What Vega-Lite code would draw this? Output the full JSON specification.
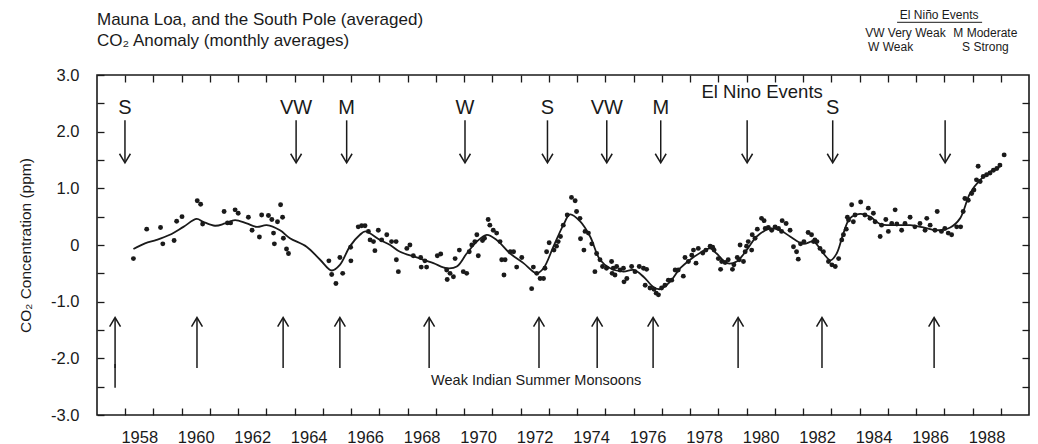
{
 "$schema": "https://vega.github.io/schema/vega-lite/v6.json",
 "width": 932, "height": 340,
 "autosize": {"type": "none"},
 "padding": {"left": 97, "top": 75, "right": 9, "bottom": 29},
 "background": "white",
 "config": {"view": {"stroke": "#1a1a1a", "strokeWidth": 1.6}, "font": "Liberation Sans"},
 "title": {"text": "Mauna Loa, and the South Pole (averaged)", "subtitle": "CO₂ Anomaly (monthly averages)", "anchor": "start", "frame": "group", "font": "Liberation Sans Narrow, Liberation Sans", "subtitleFont": "Liberation Sans Narrow, Liberation Sans", "fontSize": 17, "subtitleFontSize": 17, "fontWeight": "normal", "color": "#1a1a1a", "subtitleColor": "#1a1a1a", "offset": -41, "subtitlePadding": 4},
 "datasets": {
  "curve": [
   {"year":1958.29,"co2":-0.07},{"year":1958.70,"co2":0.03},{"year":1959.11,"co2":0.09},{"year":1959.58,"co2":0.18},{"year":1960.06,"co2":0.32},{"year":1960.53,"co2":0.46},{"year":1960.76,"co2":0.41},{"year":1961.18,"co2":0.34},{"year":1961.53,"co2":0.38},{"year":1961.89,"co2":0.44},{"year":1962.30,"co2":0.38},{"year":1962.66,"co2":0.32},{"year":1963.01,"co2":0.35},{"year":1963.48,"co2":0.26},{"year":1963.83,"co2":0.12},{"year":1964.42,"co2":-0.03},{"year":1964.90,"co2":-0.26},{"year":1965.31,"co2":-0.45},{"year":1965.60,"co2":-0.35},{"year":1965.96,"co2":-0.02},{"year":1966.31,"co2":0.18},{"year":1966.50,"co2":0.24},{"year":1967.02,"co2":0.09},{"year":1967.38,"co2":0.0},{"year":1967.73,"co2":-0.12},{"year":1968.32,"co2":-0.22},{"year":1968.91,"co2":-0.32},{"year":1969.38,"co2":-0.41},{"year":1969.74,"co2":-0.38},{"year":1970.09,"co2":-0.15},{"year":1970.45,"co2":0.06},{"year":1970.80,"co2":0.18},{"year":1971.15,"co2":0.09},{"year":1971.63,"co2":-0.15},{"year":1972.10,"co2":-0.32},{"year":1972.57,"co2":-0.50},{"year":1972.81,"co2":-0.41},{"year":1973.16,"co2":-0.03},{"year":1973.51,"co2":0.35},{"year":1973.75,"co2":0.54},{"year":1974.10,"co2":0.42},{"year":1974.46,"co2":0.15},{"year":1974.81,"co2":-0.26},{"year":1975.17,"co2":-0.41},{"year":1975.64,"co2":-0.47},{"year":1976.00,"co2":-0.44},{"year":1976.35,"co2":-0.56},{"year":1976.70,"co2":-0.74},{"year":1976.94,"co2":-0.78},{"year":1977.29,"co2":-0.65},{"year":1977.65,"co2":-0.41},{"year":1978.00,"co2":-0.26},{"year":1978.35,"co2":-0.14},{"year":1978.71,"co2":-0.06},{"year":1978.94,"co2":-0.15},{"year":1979.30,"co2":-0.32},{"year":1979.65,"co2":-0.29},{"year":1980.00,"co2":-0.09},{"year":1980.36,"co2":0.15},{"year":1980.83,"co2":0.29},{"year":1981.19,"co2":0.26},{"year":1981.54,"co2":0.15},{"year":1982.01,"co2":0.02},{"year":1982.37,"co2":0.06},{"year":1982.72,"co2":-0.15},{"year":1982.98,"co2":-0.27},{"year":1983.19,"co2":-0.15},{"year":1983.43,"co2":0.21},{"year":1983.66,"co2":0.47},{"year":1984.02,"co2":0.55},{"year":1984.37,"co2":0.50},{"year":1984.73,"co2":0.37},{"year":1985.20,"co2":0.35},{"year":1985.79,"co2":0.35},{"year":1986.26,"co2":0.31},{"year":1986.73,"co2":0.26},{"year":1987.21,"co2":0.31},{"year":1987.56,"co2":0.47},{"year":1987.91,"co2":0.91},{"year":1988.27,"co2":1.15},{"year":1988.62,"co2":1.29},{"year":1989.04,"co2":1.40}
  ],
  "points": [
   {"year":1958.29,"co2":-0.24},{"year":1958.76,"co2":0.28},{"year":1959.25,"co2":0.31},{"year":1959.33,"co2":0.02},{"year":1959.73,"co2":0.08},{"year":1959.82,"co2":0.42},{"year":1960.01,"co2":0.50},{"year":1960.55,"co2":0.78},{"year":1960.67,"co2":0.72},{"year":1960.74,"co2":0.37},{"year":1961.50,"co2":0.59},{"year":1961.62,"co2":0.39},{"year":1961.73,"co2":0.39},{"year":1961.89,"co2":0.62},{"year":1962.00,"co2":0.56},{"year":1962.36,"co2":0.49},{"year":1962.49,"co2":0.26},{"year":1962.75,"co2":0.14},{"year":1962.83,"co2":0.53},{"year":1963.07,"co2":0.52},{"year":1963.19,"co2":0.45},{"year":1963.25,"co2":0.21},{"year":1963.28,"co2":0.02},{"year":1963.39,"co2":0.41},{"year":1963.50,"co2":0.71},{"year":1963.57,"co2":0.49},{"year":1963.60,"co2":0.12},{"year":1963.71,"co2":-0.07},{"year":1963.78,"co2":-0.15},
   {"year":1965.21,"co2":-0.28},{"year":1965.31,"co2":-0.52},{"year":1965.46,"co2":-0.68},{"year":1965.60,"co2":-0.22},{"year":1965.70,"co2":-0.50},{"year":1965.98,"co2":-0.04},{"year":1965.99,"co2":-0.28},{"year":1966.25,"co2":0.32},{"year":1966.37,"co2":0.34},{"year":1966.49,"co2":0.34},{"year":1966.61,"co2":0.24},{"year":1966.67,"co2":0.09},{"year":1966.79,"co2":0.06},{"year":1966.84,"co2":-0.10},{"year":1966.96,"co2":0.26},{"year":1967.08,"co2":0.09},{"year":1967.26,"co2":0.18},{"year":1967.43,"co2":0.06},{"year":1967.59,"co2":0.06},{"year":1967.60,"co2":-0.26},{"year":1967.67,"co2":-0.47},{"year":1967.97,"co2":-0.06},{"year":1968.08,"co2":0.0},{"year":1968.20,"co2":-0.19},{"year":1968.46,"co2":-0.22},{"year":1968.48,"co2":-0.39},{"year":1968.61,"co2":-0.28},{"year":1968.67,"co2":-0.39},{"year":1969.05,"co2":-0.19},{"year":1969.17,"co2":-0.16},{"year":1969.38,"co2":-0.44},{"year":1969.40,"co2":-0.61},{"year":1969.50,"co2":-0.50},{"year":1969.62,"co2":-0.56},{"year":1969.68,"co2":-0.24},{"year":1969.83,"co2":-0.09},{"year":1969.97,"co2":-0.47},{"year":1970.09,"co2":-0.50},{"year":1970.18,"co2":-0.12},{"year":1970.27,"co2":0.0},{"year":1970.38,"co2":0.06},{"year":1970.45,"co2":0.18},{"year":1970.50,"co2":-0.19},{"year":1970.65,"co2":0.08},{"year":1970.72,"co2":0.12},{"year":1970.85,"co2":0.45},{"year":1970.91,"co2":0.35},{"year":1971.03,"co2":0.26},{"year":1971.15,"co2":0.21},{"year":1971.27,"co2":0.06},{"year":1971.33,"co2":-0.26},{"year":1971.41,"co2":-0.53},{"year":1971.45,"co2":-0.26},{"year":1971.63,"co2":-0.12},{"year":1971.75,"co2":-0.12},{"year":1971.86,"co2":-0.39},{"year":1972.04,"co2":-0.22},{"year":1972.39,"co2":-0.77},{"year":1972.45,"co2":-0.39},{"year":1972.57,"co2":-0.50},{"year":1972.69,"co2":-0.59},{"year":1972.81,"co2":-0.59},{"year":1972.86,"co2":-0.41},{"year":1972.92,"co2":-0.12},{"year":1973.01,"co2":0.04},{"year":1973.18,"co2":-0.09},{"year":1973.27,"co2":-0.02},{"year":1973.33,"co2":0.06},{"year":1973.41,"co2":0.15},{"year":1973.51,"co2":0.35},{"year":1973.65,"co2":0.53},{"year":1973.80,"co2":0.84},{"year":1973.93,"co2":0.78},{"year":1973.98,"co2":0.59},{"year":1974.10,"co2":0.47},{"year":1974.12,"co2":0.11},{"year":1974.24,"co2":-0.09},{"year":1974.28,"co2":0.24},{"year":1974.40,"co2":0.21},{"year":1974.52,"co2":0.02},{"year":1974.63,"co2":-0.47},{"year":1974.69,"co2":-0.15},{"year":1974.81,"co2":-0.26},{"year":1974.90,"co2":-0.38},{"year":1975.04,"co2":-0.41},{"year":1975.22,"co2":-0.29},{"year":1975.24,"co2":-0.50},{"year":1975.28,"co2":-0.41},{"year":1975.34,"co2":-0.53},{"year":1975.40,"co2":-0.38},{"year":1975.52,"co2":-0.44},{"year":1975.64,"co2":-0.41},{"year":1975.66,"co2":-0.65},{"year":1975.76,"co2":-0.59},{"year":1975.93,"co2":-0.38},{"year":1976.05,"co2":-0.47},{"year":1976.20,"co2":-0.38},{"year":1976.35,"co2":-0.41},{"year":1976.41,"co2":-0.71},{"year":1976.46,"co2":-0.43},{"year":1976.58,"co2":-0.76},{"year":1976.72,"co2":-0.78},{"year":1976.80,"co2":-0.85},{"year":1976.88,"co2":-0.88},{"year":1976.99,"co2":-0.76},{"year":1977.11,"co2":-0.71},{"year":1977.23,"co2":-0.62},{"year":1977.35,"co2":-0.62},{"year":1977.47,"co2":-0.44},{"year":1977.58,"co2":-0.44},{"year":1977.76,"co2":-0.55},{"year":1977.82,"co2":-0.22},{"year":1977.94,"co2":-0.29},{"year":1978.06,"co2":-0.18},{"year":1978.12,"co2":-0.09},{"year":1978.21,"co2":-0.32},{"year":1978.29,"co2":-0.06},{"year":1978.45,"co2":-0.14},{"year":1978.56,"co2":-0.09},{"year":1978.71,"co2":-0.02},{"year":1978.80,"co2":-0.04},{"year":1978.85,"co2":-0.09},{"year":1979.00,"co2":-0.24},{"year":1979.08,"co2":-0.43},{"year":1979.12,"co2":-0.29},{"year":1979.24,"co2":-0.31},{"year":1979.35,"co2":-0.26},{"year":1979.50,"co2":-0.43},{"year":1979.55,"co2":-0.35},{"year":1979.67,"co2":-0.22},{"year":1979.74,"co2":-0.26},{"year":1979.77,"co2":0.0},{"year":1979.89,"co2":-0.29},{"year":1979.95,"co2":-0.12},{"year":1980.00,"co2":-0.02},{"year":1980.06,"co2":0.06},{"year":1980.18,"co2":-0.09},{"year":1980.20,"co2":0.18},{"year":1980.30,"co2":0.12},{"year":1980.38,"co2":0.28},{"year":1980.53,"co2":0.47},{"year":1980.62,"co2":0.43},{"year":1980.66,"co2":0.29},{"year":1980.77,"co2":0.31},{"year":1980.89,"co2":0.26},{"year":1981.01,"co2":0.32},{"year":1981.13,"co2":0.29},{"year":1981.24,"co2":0.24},{"year":1981.26,"co2":0.43},{"year":1981.40,"co2":0.38},{"year":1981.54,"co2":0.26},{"year":1981.66,"co2":-0.03},{"year":1981.77,"co2":-0.12},{"year":1981.83,"co2":-0.25},{"year":1981.91,"co2":0.02},{"year":1982.03,"co2":0.06},{"year":1982.18,"co2":0.22},{"year":1982.30,"co2":0.18},{"year":1982.37,"co2":0.06},{"year":1982.42,"co2":0.09},{"year":1982.49,"co2":0.06},{"year":1982.60,"co2":-0.06},{"year":1982.72,"co2":-0.12},{"year":1982.90,"co2":-0.29},{"year":1983.02,"co2":-0.35},{"year":1983.14,"co2":-0.38},{"year":1983.26,"co2":-0.24},{"year":1983.37,"co2":0.09},{"year":1983.43,"co2":0.18},{"year":1983.53,"co2":0.28},{"year":1983.57,"co2":0.49},{"year":1983.61,"co2":0.44},{"year":1983.72,"co2":0.71},{"year":1983.78,"co2":0.41},{"year":1983.84,"co2":0.53},{"year":1984.04,"co2":0.76},{"year":1984.19,"co2":0.53},{"year":1984.31,"co2":0.65},{"year":1984.37,"co2":0.47},{"year":1984.49,"co2":0.56},{"year":1984.55,"co2":0.41},{"year":1984.73,"co2":0.15},{"year":1984.78,"co2":0.35},{"year":1984.93,"co2":0.45},{"year":1985.02,"co2":0.24},{"year":1985.14,"co2":0.38},{"year":1985.26,"co2":0.62},{"year":1985.32,"co2":0.37},{"year":1985.49,"co2":0.26},{"year":1985.61,"co2":0.38},{"year":1985.79,"co2":0.49},{"year":1985.96,"co2":0.32},{"year":1986.14,"co2":0.38},{"year":1986.32,"co2":0.26},{"year":1986.38,"co2":0.47},{"year":1986.50,"co2":0.35},{"year":1986.67,"co2":0.26},{"year":1986.75,"co2":0.59},{"year":1986.90,"co2":0.24},{"year":1987.02,"co2":0.29},{"year":1987.14,"co2":0.21},{"year":1987.26,"co2":0.18},{"year":1987.44,"co2":0.32},{"year":1987.58,"co2":0.32},{"year":1987.67,"co2":0.59},{"year":1987.73,"co2":0.82},{"year":1987.85,"co2":0.79},{"year":1987.97,"co2":0.91},{"year":1988.05,"co2":0.97},{"year":1988.14,"co2":1.15},{"year":1988.20,"co2":1.39},{"year":1988.27,"co2":1.12},{"year":1988.38,"co2":1.21},{"year":1988.50,"co2":1.24},{"year":1988.62,"co2":1.27},{"year":1988.74,"co2":1.32},{"year":1988.86,"co2":1.35},{"year":1988.97,"co2":1.41},{"year":1989.12,"co2":1.59}
  ],
  "elnino": [
   {"year":1957.99,"label":"S"},{"year":1964.05,"label":"VW"},{"year":1965.84,"label":"M"},{"year":1970.03,"label":"W"},{"year":1972.95,"label":"S"},{"year":1975.05,"label":"VW"},{"year":1976.96,"label":"M"},{"year":1980.02,"label":""},{"year":1983.05,"label":"S"},{"year":1987.03,"label":""}
  ],
  "monsoon": [
   {"year":1957.64},{"year":1960.54},{"year":1963.59},{"year":1965.60},{"year":1968.76},{"year":1972.65},{"year":1974.71},{"year":1976.69},{"year":1979.70},{"year":1982.67},{"year":1986.64}
  ],
  "notes": [
   {"year":1972.55,"co2":-2.40,"text":"Weak Indian Summer Monsoons"}
  ],
  "key": [
   {"year":1984.20,"co2":3.74,"text":"VW  Very Weak"},
   {"year":1987.32,"co2":3.74,"text":"M  Moderate"},
   {"year":1984.30,"co2":3.49,"text":"W  Weak"},
   {"year":1987.63,"co2":3.49,"text":"S  Strong"}
  ]
 },
 "resolve": {"axis": {"x": "independent", "y": "independent"}},
 "layer": [
  {
   "data": {"name": "curve"},
   "mark": {"type": "line", "interpolate": "catmull-rom", "color": "#1a1a1a", "strokeWidth": 1.8},
   "encoding": {
    "x": {"field": "year", "type": "quantitative", "scale": {"domain": [1957, 1990], "nice": false, "zero": false},
     "axis": {"orient": "bottom", "title": null, "values": [1958,1959,1960,1961,1962,1963,1964,1965,1966,1967,1968,1969,1970,1971,1972,1973,1974,1975,1976,1977,1978,1979,1980,1981,1982,1983,1984,1985,1986,1987,1988,1989],
      "labelExpr": "datum.value % 2 == 0 ? '' + datum.value : ''", "labelOverlap": false, "labelFlush": false, "labelOffset": 14,
      "tickSize": -7, "tickWidth": 1.3, "tickColor": "#1a1a1a", "labelPadding": 21, "domain": false, "grid": false,
      "labelFontSize": 16.5, "labelColor": "#1a1a1a", "labelFont": "Liberation Sans"}},
    "y": {"field": "co2", "type": "quantitative", "scale": {"domain": [-3, 3], "nice": false, "zero": false},
     "axis": {"orient": "left", "title": "CO₂ Concentration (ppm)", "values": [-3,-2.5,-2,-1.5,-1,-0.5,0,0.5,1,1.5,2,2.5,3],
      "labelExpr": "datum.value == 0 ? '0' : (datum.value % 1 == 0 ? (datum.value < 0 ? '-' : '') + format(abs(datum.value), '.1f') : '')",
      "labelOverlap": false, "labelFlush": false, "tickSize": -7, "tickWidth": 1.3, "tickColor": "#1a1a1a", "labelPadding": 25,
      "domain": false, "grid": false, "labelFontSize": 16.5, "labelColor": "#1a1a1a", "labelFont": "Liberation Sans",
      "titleFontSize": 15.5, "titleFontWeight": "normal", "titleColor": "#1a1a1a", "titleFont": "Liberation Sans", "titlePadding": 17}}
   }
  },
  {
   "data": {"name": "points"},
   "mark": {"type": "circle", "size": 24, "color": "#1a1a1a", "opacity": 1},
   "encoding": {
    "x": {"field": "year", "type": "quantitative",
     "axis": {"orient": "top", "title": null, "labels": false, "values": [1958,1959,1960,1961,1962,1963,1964,1965,1966,1967,1968,1969,1970,1971,1972,1973,1974,1975,1976,1977,1978,1979,1980,1981,1982,1983,1984,1985,1986,1987,1988,1989],
      "tickSize": -7, "tickWidth": 1.3, "tickColor": "#1a1a1a", "domain": false, "grid": false}},
    "y": {"field": "co2", "type": "quantitative",
     "axis": {"orient": "right", "title": null, "labels": false, "values": [-2.5,-2,-1.5,-1,-0.5,0,0.5,1,1.5,2,2.5],
      "tickSize": -7, "tickWidth": 1.3, "tickColor": "#1a1a1a", "domain": false, "grid": false}}
   }
  },
  {
   "data": {"name": "elnino"},
   "mark": {"type": "rule", "color": "#1a1a1a", "strokeWidth": 1.5},
   "encoding": {
    "x": {"field": "year", "type": "quantitative", "axis": null},
    "y": {"datum": 2.2, "type": "quantitative", "axis": null},
    "y2": {"datum": 1.47}
   }
  },
  {
   "data": {"name": "elnino"},
   "mark": {"type": "point", "shape": "M-0.6,-1L0,0L0.6,-1", "filled": false, "size": 330, "color": "#1a1a1a", "strokeWidth": 1.5, "opacity": 1},
   "encoding": {
    "x": {"field": "year", "type": "quantitative", "axis": null},
    "y": {"datum": 1.45, "type": "quantitative", "axis": null}
   }
  },
  {
   "data": {"name": "elnino"},
   "mark": {"type": "text", "fontSize": 20, "color": "#1a1a1a", "font": "Liberation Sans Narrow, Liberation Sans", "align": "center", "baseline": "middle"},
   "encoding": {
    "x": {"field": "year", "type": "quantitative", "axis": null},
    "y": {"datum": 2.42, "type": "quantitative", "axis": null},
    "text": {"field": "label"}
   }
  },
  {
   "data": {"name": "monsoon"},
   "mark": {"type": "rule", "color": "#1a1a1a", "strokeWidth": 1.5},
   "encoding": {
    "x": {"field": "year", "type": "quantitative", "axis": null},
    "y": {"datum": -2.17, "type": "quantitative", "axis": null},
    "y2": {"datum": -1.3}
   }
  },
  {
   "data": {"name": "monsoon"},
   "transform": [{"filter": "datum.year < 1958"}],
   "mark": {"type": "rule", "color": "#1a1a1a", "strokeWidth": 1.5},
   "encoding": {
    "x": {"field": "year", "type": "quantitative", "axis": null},
    "y": {"datum": -2.52, "type": "quantitative", "axis": null},
    "y2": {"datum": -2.1}
   }
  },
  {
   "data": {"name": "monsoon"},
   "mark": {"type": "point", "shape": "M-0.6,1L0,0L0.6,1", "filled": false, "size": 330, "color": "#1a1a1a", "strokeWidth": 1.5, "opacity": 1},
   "encoding": {
    "x": {"field": "year", "type": "quantitative", "axis": null},
    "y": {"datum": -1.28, "type": "quantitative", "axis": null}
   }
  },
  {
   "data": {"name": "notes"},
   "mark": {"type": "text", "fontSize": 14.5, "color": "#1a1a1a", "font": "Liberation Sans", "align": "center", "baseline": "middle"},
   "encoding": {
    "x": {"field": "year", "type": "quantitative", "axis": null},
    "y": {"field": "co2", "type": "quantitative", "axis": null},
    "text": {"field": "text"}
   }
  },
  {
   "data": {"values": [{"text": "El Nino Events"}]},
   "mark": {"type": "text", "fontSize": 18.5, "color": "#1a1a1a", "font": "Liberation Sans", "align": "center", "baseline": "middle"},
   "encoding": {
    "x": {"datum": 1980.55, "type": "quantitative", "axis": null},
    "y": {"datum": 2.70, "type": "quantitative", "axis": null},
    "text": {"field": "text"}
   }
  },
  {
   "data": {"name": "key"},
   "mark": {"type": "text", "fontSize": 12, "color": "#1a1a1a", "font": "Liberation Sans", "align": "left", "baseline": "middle"},
   "encoding": {
    "x": {"field": "year", "type": "quantitative", "axis": null},
    "y": {"field": "co2", "type": "quantitative", "axis": null},
    "text": {"field": "text"}
   }
  },
  {
   "data": {"values": [{"text": "El Niño Events"}]},
   "mark": {"type": "text", "fontSize": 12, "color": "#1a1a1a", "font": "Liberation Sans", "align": "center", "baseline": "middle"},
   "encoding": {
    "x": {"datum": 1986.82, "type": "quantitative", "axis": null},
    "y": {"datum": 4.06, "type": "quantitative", "axis": null},
    "text": {"field": "text"}
   }
  },
  {
   "data": {"values": [{}]},
   "mark": {"type": "rule", "color": "#1a1a1a", "strokeWidth": 1},
   "encoding": {
    "x": {"datum": 1985.33, "type": "quantitative", "axis": null},
    "x2": {"datum": 1988.34},
    "y": {"datum": 3.93, "type": "quantitative", "axis": null}
   }
  }
 ]
}
